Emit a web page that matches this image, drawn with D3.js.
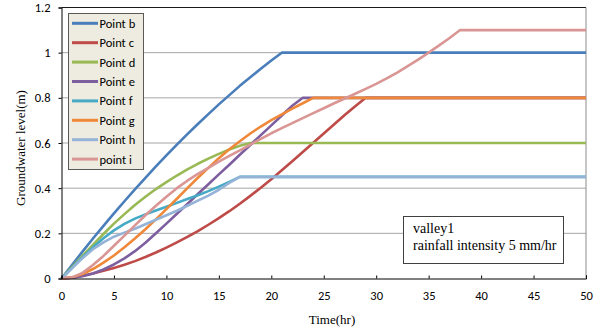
<!DOCTYPE html>
<html>
<head>
<meta charset="utf-8">
<script src="https://cdn.jsdelivr.net/npm/d3@7"></script>
<style>
  html, body { margin: 0; padding: 0; background: #fff; }
  svg { display: block; }
  .tick-label { font-family: Carlito, Lato, "Liberation Sans", sans-serif; font-size: 12.5px; fill: #000; }
  .serif { font-family: "Liberation Serif", "Times New Roman", serif; fill: #000; }
</style>
</head>
<body>
<svg id="chart" width="604" height="333"></svg>
<script>
// Simulated groundwater level (m) at each observation point, hourly from 0 to 50 hr
const hours = [0,1,2,3,4,5,6,7,8,9,10,11,12,13,14,15,16,17,18,19,20,21,22,23,24,25,26,27,28,29,30,
  31,32,33,34,35,36,37,38,39,40,41,42,43,44,45,46,47,48,49,50];

const pointB = [0,.060,.119,.177,.233,.288,.342,.395,.446,.496,
  .545,.593,.639,.684,.728,.771,.812,.853,.891,.929,
  .965,1,1,1,1,1,1,1,1,1,
  1,1,1,1,1,1,1,1,1,1,
  1,1,1,1,1,1,1,1,1,1,
  1];
const pointC = [0,.004,.012,.022,.034,.047,.061,.077,.095,.115,
  .137,.16,.184,.21,.238,.267,.298,.331,.366,.402,
  .44,.479,.519,.56,.601,.642,.683,.724,.763,.80,
  .8,.8,.8,.8,.8,.8,.8,.8,.8,.8,
  .8,.8,.8,.8,.8,.8,.8,.8,.8,.8,
  .8];
const pointD = [0,.05,.10,.149,.197,.243,.285,.325,.362,.396,
  .427,.456,.483,.508,.531,.552,.571,.588,.6,.6,
  .6,.6,.6,.6,.6,.6,.6,.6,.6,.6,
  .6,.6,.6,.6,.6,.6,.6,.6,.6,.6,
  .6,.6,.6,.6,.6,.6,.6,.6,.6,.6,
  .6];
const pointE = [0,.003,.01,.022,.04,.062,.089,.121,.158,.2,
  .243,.287,.33,.374,.417,.461,.504,.548,.591,.635,
  .678,.722,.765,.8,.8,.8,.8,.8,.8,.8,
  .8,.8,.8,.8,.8,.8,.8,.8,.8,.8,
  .8,.8,.8,.8,.8,.8,.8,.8,.8,.8,
  .8];
const pointF = [0,.047,.094,.138,.178,.213,.242,.265,.284,.301,
  .318,.335,.352,.369,.387,.407,.428,.45,.45,.45,
  .45,.45,.45,.45,.45,.45,.45,.45,.45,.45,
  .45,.45,.45,.45,.45,.45,.45,.45,.45,.45,
  .45,.45,.45,.45,.45,.45,.45,.45,.45,.45,
  .45];
const pointG = [0,.005,.02,.042,.07,.102,.138,.177,.218,.262,
  .307,.353,.4,.446,.49,.533,.572,.608,.642,.673,
  .701,.727,.752,.776,.8,.8,.8,.8,.8,.8,
  .8,.8,.8,.8,.8,.8,.8,.8,.8,.8,
  .8,.8,.8,.8,.8,.8,.8,.8,.8,.8,
  .8];
const pointH = [0,.045,.09,.13,.16,.185,.203,.22,.24,.26,
  .28,.30,.322,.345,.367,.393,.423,.45,.45,.45,
  .45,.45,.45,.45,.45,.45,.45,.45,.45,.45,
  .45,.45,.45,.45,.45,.45,.45,.45,.45,.45,
  .45,.45,.45,.45,.45,.45,.45,.45,.45,.45,
  .45];
const pointI = [0,.005,.025,.06,.1,.145,.19,.235,.28,.322,
  .362,.4,.433,.463,.49,.517,.543,.567,.593,.618,
  .643,.666,.688,.71,.732,.754,.776,.797,.818,.84,
  .862,.886,.912,.94,.969,1.0,1.032,1.065,1.1,1.1,
  1.1,1.1,1.1,1.1,1.1,1.1,1.1,1.1,1.1,1.1,
  1.1];

const seriesNames = ["Point b","Point c","Point d","Point e","Point f","Point g","Point h","point i"];
const seriesValues = [pointB, pointC, pointD, pointE, pointF, pointG, pointH, pointI];
const seriesColors = ["#4A7EBB","#BE4B48","#98B954","#7D5FA0","#46AAC5","#F0883A","#95B3D7","#D99694"];

const xTicks = [0,5,10,15,20,25,30,35,40,45,50];
const yTicks = [0,0.2,0.4,0.6,0.8,1,1.2];
const yTickLabels = ["0","0.2","0.4","0.6","0.8","1","1.2"];

const svg = d3.select("#chart");
const plotLeft = 61.5, plotRight = 586, plotTop = 7.5, plotBottom = 278.5;

const x = d3.scaleLinear().domain([0, 50]).range([plotLeft, plotRight]);
const y = d3.scaleLinear().domain([0, 1.2]).range([plotBottom, plotTop]);

// horizontal gridlines
svg.append("g").selectAll("line")
  .data(yTicks.filter(v => v > 0 && v < 1.2))
  .join("line")
  .attr("x1", plotLeft).attr("x2", plotRight)
  .attr("y1", d => y(d)).attr("y2", d => y(d))
  .attr("stroke", "#a6a6a6").attr("stroke-width", 1);

// plot frame: dark top edge, grey right edge
svg.append("line").attr("x1", plotLeft).attr("x2", plotRight).attr("y1", plotTop).attr("y2", plotTop)
  .attr("stroke", "#1a1a1a").attr("stroke-width", 1);
svg.append("line").attr("x1", plotRight).attr("x2", plotRight).attr("y1", plotTop).attr("y2", plotBottom)
  .attr("stroke", "#8c8c8c").attr("stroke-width", 1);

// series lines
const line = d3.line()
  .x((d, i) => x(hours[i]))
  .y(d => y(d));

svg.append("g").selectAll("path")
  .data(seriesValues)
  .join("path")
  .attr("d", d => line(d))
  .attr("fill", "none")
  .attr("stroke", (d, i) => seriesColors[i])
  .attr("stroke-width", 2.6)
  .attr("stroke-linejoin", "round");

// y axis
const yAxis = d3.axisLeft(y)
  .tickValues(yTicks)
  .tickFormat((d, i) => yTickLabels[i])
  .tickSize(3)
  .tickPadding(8);
const gy = svg.append("g").attr("transform", `translate(${plotLeft},0)`).call(yAxis);
gy.select(".domain").attr("stroke", "#000");
gy.selectAll(".tick line").attr("stroke", "#000");
gy.selectAll("text").attr("class", "tick-label").attr("font-family", null).attr("font-size", null);

// x axis with inward ticks
const xAxis = d3.axisBottom(x)
  .tickValues(xTicks)
  .tickFormat(d3.format("d"))
  .tickSize(-3)
  .tickPadding(13);
const gx = svg.append("g").attr("transform", `translate(0,${plotBottom})`).call(xAxis);
gx.select(".domain").attr("stroke", "#000");
gx.selectAll(".tick line").attr("stroke", "#000");
gx.selectAll("text").attr("class", "tick-label").attr("font-family", null).attr("font-size", null);

// axis titles
svg.append("text").attr("class", "serif")
  .attr("x", 332).attr("y", 324)
  .attr("text-anchor", "middle").attr("font-size", 13)
  .text("Time(hr)");
svg.append("text").attr("class", "serif")
  .attr("transform", "translate(25,148) rotate(-90)")
  .attr("text-anchor", "middle").attr("font-size", 13)
  .text("Groundwater level(m)");

// legend
const legend = svg.append("g");
legend.append("rect")
  .attr("x", 68.5).attr("y", 13.5).attr("width", 75).attr("height", 156)
  .attr("fill", "#EEECE1").attr("stroke", "#595959").attr("stroke-width", 1);
const rows = legend.selectAll("g.row")
  .data(seriesNames)
  .join("g")
  .attr("class", "row")
  .attr("transform", (d, i) => `translate(0,${23.3 + i * 19.4})`);
rows.append("line")
  .attr("x1", 72).attr("x2", 98).attr("y1", 0).attr("y2", 0)
  .attr("stroke", (d, i) => seriesColors[i]).attr("stroke-width", 3);
rows.append("text")
  .attr("class", "tick-label")
  .attr("x", 99.5).attr("y", 4.5)
  .text(d => d);

// annotation box
const note = svg.append("g");
note.append("rect")
  .attr("x", 403.5).attr("y", 216.5).attr("width", 160).attr("height", 47)
  .attr("fill", "#fff").attr("stroke", "#404040").attr("stroke-width", 1);
note.append("text").attr("class", "serif").attr("font-size", 14)
  .attr("x", 413).attr("y", 233).text("valley1");
note.append("text").attr("class", "serif").attr("font-size", 14)
  .attr("x", 413).attr("y", 250).text("rainfall intensity 5 mm/hr");
</script>
</body>
</html>
